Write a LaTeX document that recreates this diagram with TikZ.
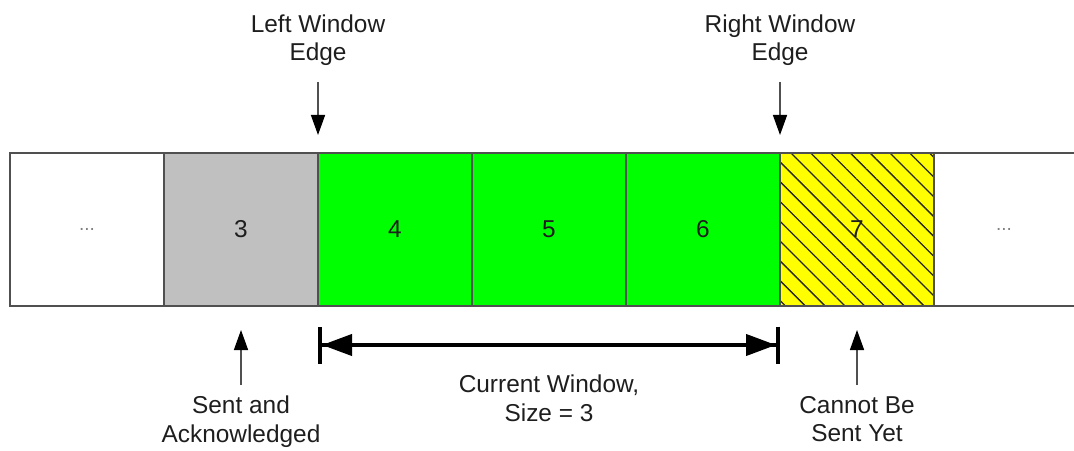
\documentclass[tikz,border=0pt]{standalone}
\usepackage{fontspec}
\setmainfont{Liberation Sans}
\usetikzlibrary{arrows.meta, positioning, patterns.meta}

\definecolor{winGreen}{RGB}{0,255,0}
\definecolor{ackGray}{RGB}{192,192,192}
\definecolor{waitYellow}{RGB}{255,255,0}
\definecolor{edgeLine}{RGB}{80,80,80}
\definecolor{txtDark}{RGB}{30,30,30}

\begin{document}
\begin{tikzpicture}[
    x=1bp, y=1bp,
    font=\fontsize{24.5}{28.5}\selectfont,
    cell/.style={rectangle, draw=edgeLine, line width=1.5bp, minimum width=154bp, minimum height=153bp, inner sep=0pt, outer sep=0pt, text=txtDark},
    gap/.style={text=gray, font=\fontsize{19}{20}\selectfont},
    lbl/.style={align=center, text=txtDark, inner sep=1bp},
    pointer/.style={draw=edgeLine, line width=1.5bp, -{Triangle[length=20bp, width=14bp, color=black]}},
    span/.style={line width=4bp, {Bar[width=37bp]Triangle[length=30bp, width=21bp, sep=0pt]}-{Triangle[length=30bp, width=21bp, sep=0pt]Bar[width=37bp]}},
    node distance=0pt
  ]
  \useasboundingbox (0,0) rectangle (1074,-451);

  % Sequence of frames
  \node[cell, gap, anchor=north west] (dotsL) at (10,-153) {...};
  \node[cell, right=of dotsL, fill=ackGray] (s3) {3};
  \node[cell, right=of s3, fill=winGreen] (s4) {4};
  \node[cell, right=of s4, fill=winGreen] (s5) {5};
  \node[cell, right=of s5, fill=winGreen] (s6) {6};
  \node[cell, right=of s6, preaction={fill=waitYellow}, pattern={Lines[angle=-45, distance=14bp, line width=1.3bp]}, pattern color=black!85] (s7) {7};
  \node[cell, gap, right=of s7, draw=none, minimum width=140bp] (dotsR) {...};
  \draw[edgeLine, line width=1.5bp] (s7.north east) -- (dotsR.north east);
  \draw[edgeLine, line width=1.5bp] (s7.south east) -- (dotsR.south east);

  % Window edges
  \node[lbl, above=86bp of s4.north west] (leftedge) {Left Window\\Edge};
  \node[lbl, above=86bp of s7.north west] (rightedge) {Right Window\\Edge};
  \draw[pointer, shorten <=15bp, shorten >=18bp] (leftedge.south) -- (s4.north west);
  \draw[pointer, shorten <=15bp, shorten >=18bp] (rightedge.south) -- (s7.north west);

  % Current window
  \coordinate[below=39bp of s4.south west] (winL);
  \coordinate[below=39bp of s7.south west] (winR);
  \draw[span] (winL) -- (winR);
  \path (winL) -- node[lbl, below=29bp] (winlbl) {Current Window,\\Size = 3} (winR);

  % Frame states
  \node[lbl, below=89bp of s3.south] (acklbl) {Sent and\\Acknowledged};
  \node[lbl, below=89bp of s7.south] (waitlbl) {Cannot Be\\Sent Yet};
  \draw[pointer, shorten <=10bp, shorten >=24bp] (acklbl.north) -- (s3.south);
  \draw[pointer, shorten <=10bp, shorten >=24bp] (waitlbl.north) -- (s7.south);
\end{tikzpicture}
\end{document}
